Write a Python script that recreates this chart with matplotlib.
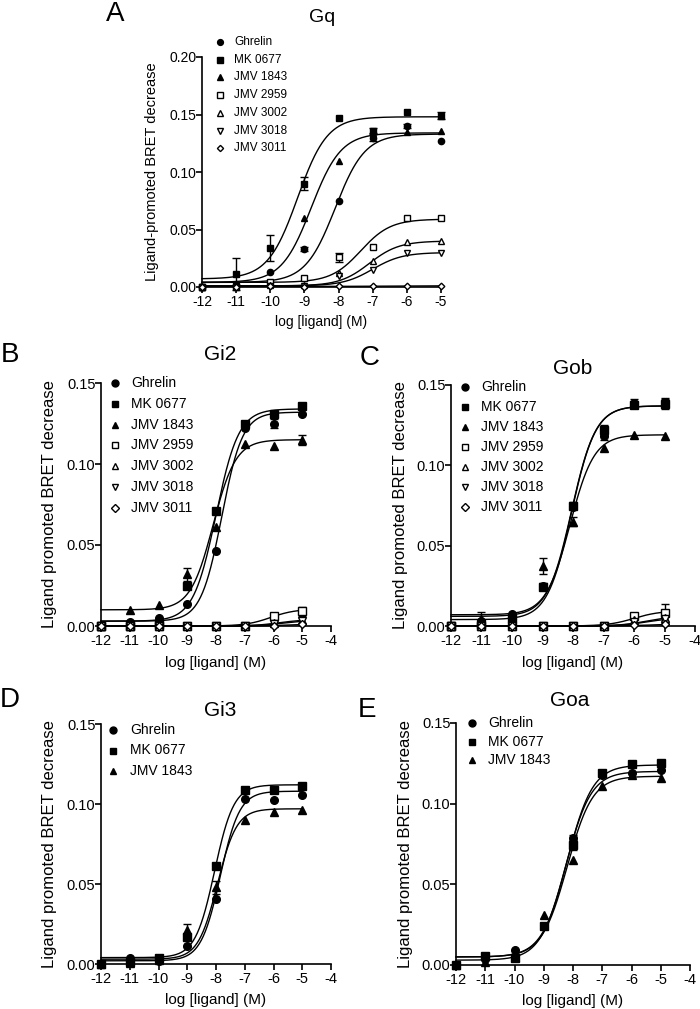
import numpy as np
import matplotlib
matplotlib.use("Agg")
import matplotlib.pyplot as plt
import matplotlib.lines as mlines

plt.rcParams['font.family'] = ['Liberation Sans', 'DejaVu Sans']
plt.rcParams['axes.unicode_minus'] = False

W, H = 700, 1009

# ---------------- data ----------------
LOG_DOSE = [-12, -11, -10, -9, -8, -7, -6, -5]
COMPOUNDS = ["Ghrelin", "MK 0677", "JMV 1843", "JMV 2959", "JMV 3002", "JMV 3018", "JMV 3011"]

# Panel A: Gq
A_GHRELIN = [0.000, 0.002, 0.013, 0.033, 0.075, 0.130, 0.140, 0.127]
A_MK0677 = [0.000, 0.011, 0.034, 0.090, 0.147, 0.136, 0.152, 0.149]
A_JMV1843 = [0.000, 0.001, 0.003, 0.060, 0.110, 0.134, 0.135, 0.136]
A_JMV2959 = [0.000, 0.001, 0.004, 0.008, 0.026, 0.035, 0.060, 0.060]
A_JMV3002 = [0.000, 0.000, 0.002, 0.002, 0.012, 0.023, 0.039, 0.040]
A_JMV3018 = [0.000, 0.000, 0.001, 0.001, 0.010, 0.015, 0.030, 0.030]
A_JMV3011 = [0.000, 0.000, 0.001, 0.000, 0.001, 0.001, 0.001, 0.001]
A_ERR_GHRELIN = [0, 0, 0, 0.002, 0, 0.003, 0.002, 0]
A_ERR_MK0677 = [0, 0.014, 0.011, 0.006, 0, 0.002, 0, 0.003]
A_ERR_JMV2959 = [0, 0, 0, 0, 0.004, 0, 0, 0]
# fit parameters: bottom, top, logEC50, hill
A_FIT = [(0.004, 0.133, -8.10, 1.0), (0.007, 0.148, -9.20, 1.0), (0.004, 0.134, -8.80, 1.0),
         (0.004, 0.059, -7.35, 1.0), (0.001, 0.040, -7.10, 1.0), (0.001, 0.030, -7.00, 1.0),
         (0.0005, 0.001, -7.0, 1.0)]

# Panel B: Gi2
B_GHRELIN = [0.000, 0.0025, 0.005, 0.0134, 0.046, 0.122, 0.125, 0.131]
B_MK0677 = [0.000, 0.000, 0.001, 0.0245, 0.071, 0.1245, 0.131, 0.136]
B_JMV1843 = [0.000, 0.010, 0.0128, 0.032, 0.061, 0.1124, 0.111, 0.115]
B_JMV2959 = [0, 0, 0, 0, 0, 0, 0.006, 0.009]
B_JMV3002 = [0, 0, 0, 0, 0, 0, 0.002, 0.0035]
B_JMV3018 = [0, 0, 0, 0, 0, 0, 0.0015, 0.003]
B_JMV3011 = [0, 0, 0, 0, 0, 0, 0.000, 0.001]
B_ERR_GHRELIN = [0, 0, 0, 0, 0, 0, 0.003, 0]
B_ERR_JMV1843 = [0, 0, 0, 0.004, 0, 0, 0, 0.003]
B_ERR_JMV2959 = [0, 0, 0, 0, 0, 0, 0, 0.003]
B_FIT = [(0.003, 0.132, -7.80, 1.2), (0.003, 0.134, -8.00, 1.1), (0.010, 0.115, -8.10, 1.1),
         (0.0, 0.0105, -6.1, 1.0), (0.0, 0.004, -5.8, 1.0), (0.0, 0.0035, -5.7, 1.0),
         (0.0, 0.0012, -5.5, 1.0)]

# Panel C: Gob
C_GHRELIN = [0.000, 0.003, 0.0073, 0.0247, 0.074, 0.118, 0.139, 0.139]
C_MK0677 = [0.000, 0.001, 0.005, 0.024, 0.075, 0.122, 0.1375, 0.138]
C_JMV1843 = [0.000, 0.0046, 0.0066, 0.0376, 0.065, 0.111, 0.119, 0.118]
C_JMV2959 = [0, 0, 0, 0, 0, 0, 0.006, 0.008]
C_JMV3002 = [0, 0, 0, 0, 0, 0, 0.0035, 0.005]
C_JMV3018 = [0, 0, 0, 0, 0, 0, 0.0027, 0.0044]
C_JMV3011 = [0, 0, 0, 0, 0, 0, 0.0005, 0.001]
C_ERR_GHRELIN = [0, 0, 0, 0.002, 0, 0.002, 0.002, 0.003]
C_ERR_MK0677 = [0, 0, 0, 0, 0.002, 0.003, 0, 0.003]
C_ERR_JMV1843 = [0, 0.004, 0, 0.005, 0.003, 0, 0, 0]
C_ERR_JMV2959 = [0, 0, 0, 0, 0, 0, 0, 0.006]
C_FIT = [(0.006, 0.137, -8.05, 1.1), (0.004, 0.137, -8.05, 1.1), (0.007, 0.119, -8.10, 1.1),
         (0.0, 0.0095, -6.0, 1.0), (0.0, 0.006, -5.6, 1.0), (0.0, 0.005, -5.6, 1.0),
         (0.0, 0.0012, -5.5, 1.0)]

# Panel D: Gi3
D_GHRELIN = [0.000, 0.0035, 0.002, 0.0115, 0.0405, 0.103, 0.1027, 0.1056]
D_MK0677 = [0.000, 0.0015, 0.004, 0.0167, 0.0613, 0.109, 0.109, 0.111]
D_JMV1843 = [0.000, 0.0005, 0.0025, 0.021, 0.048, 0.090, 0.095, 0.0964]
D_ERR_JMV1843 = [0, 0, 0, 0.004, 0.004, 0, 0, 0]
D_FIT = [(0.002, 0.108, -7.85, 1.3), (0.004, 0.112, -8.05, 1.3), (0.003, 0.097, -7.95, 1.3)]

# Panel E: Goa
E_GHRELIN = [0.000, 0.004, 0.009, 0.024, 0.0786, 0.118, 0.119, 0.1206]
E_MK0677 = [0.000, 0.0056, 0.0045, 0.0244, 0.0745, 0.119, 0.1245, 0.125]
E_JMV1843 = [0.000, 0.002, 0.005, 0.031, 0.0648, 0.1107, 0.118, 0.116]
E_ERR_GHRELIN = [0, 0, 0, 0, 0.002, 0, 0, 0]
E_ERR_MK0677 = [0, 0, 0, 0, 0.003, 0, 0, 0]
E_FIT = [(0.003, 0.120, -8.25, 1.0), (0.005, 0.124, -8.20, 1.0), (0.005, 0.117, -8.20, 1.0)]

# ---------------- styles ----------------
STYLES = [
    dict(marker='o', mfc='black'),
    dict(marker='s', mfc='black'),
    dict(marker='^', mfc='black'),
    dict(marker='s', mfc='white'),
    dict(marker='^', mfc='white'),
    dict(marker='v', mfc='white'),
    dict(marker='D', mfc='white'),
]
SIZE_SCALE = [1.0, 0.95, 0.95, 1.0, 1.0, 1.0, 0.75]


def hill(x, b, t, ec, n):
    return b + (t - b) / (1.0 + 10 ** ((ec - x) * n))


fig = plt.figure(figsize=(W / 100, H / 100), dpi=100)


def make_axes(l, t, r, b):
    return fig.add_axes([l / W, 1 - b / H, (r - l) / W, (b - t) / H])


def fx(x):
    return x / W


def fy(y):
    return 1 - y / H


def draw_panel(ax, series, errors, fits, xmax, ymax, yticks, ms, tick_fs, lw=1.0):
    xs = np.linspace(-12, -5, 300)
    for i, (vals, fit) in enumerate(zip(series, fits)):
        ax.plot(xs, hill(xs, *fit), color='black', lw=lw, zorder=2, clip_on=False)
    for i, vals in enumerate(series):
        st = STYLES[i]
        err = errors[i]
        if err is not None:
            xe = [x for x, e in zip(LOG_DOSE, err) if e > 0]
            ye = [v for v, e in zip(vals, err) if e > 0]
            ee = [e for e in err if e > 0]
            ax.errorbar(xe, ye, yerr=ee, fmt='none', ecolor='black', elinewidth=1.0,
                        capsize=3, capthick=1.0, zorder=3, clip_on=False)
        ax.plot(LOG_DOSE, vals, linestyle='none', marker=st['marker'], mfc=st['mfc'],
                mec='black', mew=1.0, ms=ms * SIZE_SCALE[i], zorder=4, clip_on=False)
    ax.set_xlim(-12, xmax)
    ax.set_ylim(0, ymax)
    ax.set_xticks(list(range(-12, xmax + 1)))
    ax.set_xticklabels([str(v) for v in range(-12, xmax + 1)])
    ax.set_yticks(yticks)
    ax.set_yticklabels(["%.2f" % v for v in yticks])
    for s in ['top', 'right']:
        ax.spines[s].set_visible(False)
    for s in ['left', 'bottom']:
        ax.spines[s].set_linewidth(1.2)
    ax.tick_params(axis='both', direction='out', length=4, width=1.2, labelsize=tick_fs)
    ax.tick_params(axis='y', pad=0)
    ax.tick_params(axis='x', pad=2)
    ax.patch.set_alpha(0)


def legend(names, xm, xt, y0, dy, ms, fs, n):
    for i in range(n):
        st = STYLES[i]
        y = y0 + i * dy
        fig.add_artist(mlines.Line2D([fx(xm)], [fy(y)], linestyle='none', marker=st['marker'],
                                     mfc=st['mfc'], mec='black', mew=1.0,
                                     ms=ms * SIZE_SCALE[i], transform=fig.transFigure))
        fig.text(fx(xt), fy(y), names[i], fontsize=fs, va='center', ha='left')


def labels(letter, lpos, title, tpos, tfs, box, ylab, yl_fs, xl_fs, xlab_off, ylab_off):
    l, t, r, b = box
    fig.text(fx(lpos[0]), fy(lpos[1]), letter, fontsize=20, ha='center', va='center')
    fig.text(fx(tpos[0]), fy(tpos[1]), title, fontsize=tfs, ha='center', va='center')
    fig.text(fx((l + r) / 2), fy(b + xlab_off), "log [ligand] (M)", fontsize=xl_fs,
             ha='center', va='center')
    fig.text(fx(l - ylab_off), fy((t + b) / 2), ylab, fontsize=yl_fs, ha='center',
             va='center', rotation=90)


# Panel A
boxA = (202, 57, 441, 287)
axA = make_axes(*boxA)
draw_panel(axA, [A_GHRELIN, A_MK0677, A_JMV1843, A_JMV2959, A_JMV3002, A_JMV3018, A_JMV3011],
           [A_ERR_GHRELIN, A_ERR_MK0677, None, A_ERR_JMV2959, None, None, None],
           A_FIT, -5, 0.20, [0.0, 0.05, 0.10, 0.15, 0.20], ms=4.5, tick_fs=10)
legend(COMPOUNDS, 220, 234, 42, 17.7, 4.2, 8.5, 7)
labels("A", (115, 14), "Gq", (322, 17), 14, boxA, "Ligand-promoted BRET decrease", 10.5, 10, 35, 50)

# Panel B
boxB = (101, 383, 331, 626)
axB = make_axes(*boxB)
draw_panel(axB, [B_GHRELIN, B_MK0677, B_JMV1843, B_JMV2959, B_JMV3002, B_JMV3018, B_JMV3011],
           [B_ERR_GHRELIN, None, B_ERR_JMV1843, B_ERR_JMV2959, None, None, None],
           B_FIT, -4, 0.15, [0.0, 0.05, 0.10, 0.15], ms=5.5, tick_fs=10.5)
legend(COMPOUNDS, 115, 131, 383, 20.8, 5.0, 10, 7)
labels("B", (10, 355), "Gi2", (220, 355), 15, boxB, "Ligand promoted BRET decrease", 12, 11, 37, 51)

# Panel C
boxC = (451, 385, 695, 626)
axC = make_axes(*boxC)
draw_panel(axC, [C_GHRELIN, C_MK0677, C_JMV1843, C_JMV2959, C_JMV3002, C_JMV3018, C_JMV3011],
           [C_ERR_GHRELIN, C_ERR_MK0677, C_ERR_JMV1843, C_ERR_JMV2959, None, None, None],
           C_FIT, -4, 0.15, [0.0, 0.05, 0.10, 0.15], ms=5.5, tick_fs=10.5)
legend(COMPOUNDS, 465, 481, 387, 20.0, 5.0, 10, 7)
labels("C", (370, 358), "Gob", (573, 369), 15, boxC, "Ligand promoted BRET decrease", 12, 11, 37, 51)

# Panel D
boxD = (101, 724, 331, 964)
axD = make_axes(*boxD)
draw_panel(axD, [D_GHRELIN, D_MK0677, D_JMV1843], [None, None, D_ERR_JMV1843],
           D_FIT, -4, 0.15, [0.0, 0.05, 0.10, 0.15], ms=5.5, tick_fs=10.5)
legend(COMPOUNDS, 113, 130, 730, 20.5, 5.0, 10, 3)
labels("D", (10, 700), "Gi3", (220, 710), 15, boxD, "Ligand promoted BRET decrease", 12, 11, 36, 51)

# Panel E
boxE = (456, 723, 690, 965)
axE = make_axes(*boxE)
draw_panel(axE, [E_GHRELIN, E_MK0677, E_JMV1843], [E_ERR_GHRELIN, E_ERR_MK0677, None],
           E_FIT, -4, 0.15, [0.0, 0.05, 0.10, 0.15], ms=5.5, tick_fs=10.5)
legend(COMPOUNDS, 472, 488, 723, 18.5, 5.0, 10, 3)
labels("E", (367, 710), "Goa", (570, 701), 15, boxE, "Ligand promoted BRET decrease", 12, 11, 36, 51)

fig.savefig("out.png", dpi=100)
